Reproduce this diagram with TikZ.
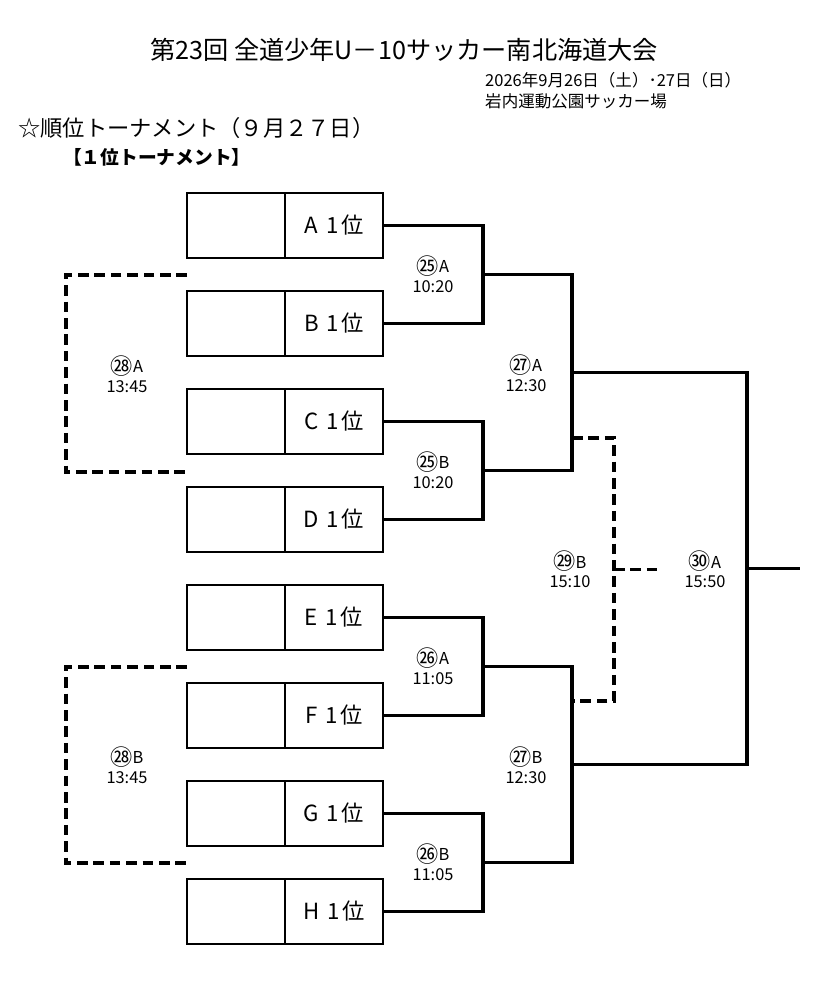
\documentclass[tikz,border=0pt]{standalone}
\usepackage{fontspec}
\setmainfont{Noto Sans CJK JP}
\usepackage{tikz}
\newcommand{\gamenum}[1]{\raisebox{-.2ex}{\scalebox{1.35}{#1}}}

\begin{document}
\begin{tikzpicture}[x=0.03cm,y=-0.03cm,
	seat/.style={draw,line width=1pt,minimum width=2.94cm,minimum height=1.95cm,inner sep=0pt,font=\fontsize{19}{24}\selectfont},
	win/.style={line width=2.6pt},
	lose/.style={line width=2.6pt,dash pattern=on 9pt off 5pt},
	time/.style={align=center,inner sep=0pt,font=\fontsize{14}{16.5}\selectfont}]
	\useasboundingbox (0,0) rectangle (832,990);
	% heading
	\node (title) at (404,50) {\fontsize{21.5}{24}\selectfont 第23回 全道少年U－10サッカー南北海道大会};
	\node[anchor=west,inner sep=0pt] (date) at (485,80) {\fontsize{14.1}{16}\selectfont 2026年9月26日（土）･27日（日）};
	\node[anchor=west,inner sep=0pt] (place) at (485,101) {\fontsize{14.1}{16}\selectfont 岩内運動公園サッカー場};
	\node[anchor=west,inner sep=0pt] (round) at (18,128) {\fontsize{19}{22}\selectfont ☆順位トーナメント（９月２７日）};
	\node[anchor=west,inner sep=0pt] (group) at (63,157) {\fontsize{16}{20}\selectfont\bfseries 【１位トーナメント】};
	% seats
	\foreach \t [count=\i from 0] in {A,B,C,D,E,F,G,H} {
		\node[seat] (s\t) at (236,225.5+98*\i) {};
		\node[seat] (r\t) at (334,225.5+98*\i) {\t\hspace{.35em}1\hspace{.12em}位};
	}
	% junctions
	\coordinate (m25a) at (483,274.5);
	\coordinate (m25b) at (483,470.5);
	\coordinate (m26a) at (483,666.5);
	\coordinate (m26b) at (483,862.5);
	\coordinate (m27a) at (572,372.5);
	\coordinate (m27b) at (572,764.5);
	\coordinate (m30a) at (747,568.5);
	\coordinate (champ) at (800,568.5);
	\draw[win] (rA.east) -| (m25a);
	\draw[win] (rB.east) -| (m25a);
	\draw[win] (rC.east) -| (m25b);
	\draw[win] (rD.east) -| (m25b);
	\draw[win] (rE.east) -| (m26a);
	\draw[win] (rF.east) -| (m26a);
	\draw[win] (rG.east) -| (m26b);
	\draw[win] (rH.east) -| (m26b);
	\draw[win] (m25a) -| (m27a);
	\draw[win] (m25b) -| (m27a);
	\draw[win] (m26a) -| (m27b);
	\draw[win] (m26b) -| (m27b);
	\draw[win] (m27a) -| (m30a);
	\draw[win] (m27b) -| (m30a);
	\draw[win] (m30a) -- (champ);
	% losers
	\coordinate (t28a) at (187,275);
	\coordinate (b28a) at (187,472);
	\coordinate (m28a) at (66,373.5);
	\coordinate (t28b) at (187,667);
	\coordinate (b28b) at (187,863);
	\coordinate (m28b) at (66,765);
	\coordinate (t29b) at (572,438);
	\coordinate (b29b) at (572,701);
	\coordinate (m29b) at (614,569.5);
	\coordinate (e29b) at (658,569.5);
	\draw[lose] (t28a) -| (m28a) |- (b28a);
	\draw[lose] (t28b) -| (m28b) |- (b28b);
	\draw[lose] (t29b) -| (m29b) |- (b29b);
	\draw[lose] (m29b) -- (e29b);
	% match times
	\node[time] (l25a) at (433,274) {\gamenum{㉕}A\\10:20};
	\node[time] (l25b) at (433,470) {\gamenum{㉕}B\\10:20};
	\node[time] (l26a) at (433,666) {\gamenum{㉖}A\\11:05};
	\node[time] (l26b) at (433,862) {\gamenum{㉖}B\\11:05};
	\node[time] (l27a) at (526,373) {\gamenum{㉗}A\\12:30};
	\node[time] (l27b) at (526,765) {\gamenum{㉗}B\\12:30};
	\node[time] (l28a) at (127,374) {\gamenum{㉘}A\\13:45};
	\node[time] (l28b) at (127,765) {\gamenum{㉘}B\\13:45};
	\node[time] (l29b) at (570,569.5) {\gamenum{㉙}B\\15:10};
	\node[time] (l30a) at (705,569.5) {\gamenum{㉚}A\\15:50};
\end{tikzpicture}
\end{document}
